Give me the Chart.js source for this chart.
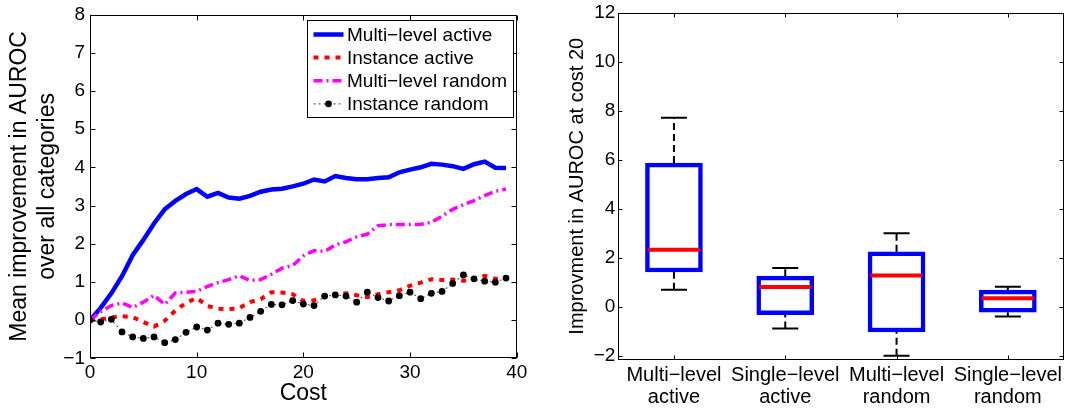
<!DOCTYPE html>
<html>
<head>
<meta charset="utf-8">
<script src="https://cdn.jsdelivr.net/npm/chart.js@4"></script>
<style>
  html, body { margin: 0; padding: 0; background: #fff; }
  #wrap { position: relative; width: 1071px; height: 408px; }
  #left  { position: absolute; left: 0;     top: 0; }
  #right { position: absolute; left: 540px; top: 0; }
</style>
</head>
<body>
<div id="wrap">
  <canvas id="left" width="540" height="408"></canvas>
  <canvas id="right" width="531" height="408"></canvas>
</div>
<script>
// ─── DATA ──────────────────────────────────────────

// left panel: mean AUROC improvement vs. cost
const costs = [0, 1, 2, 3, 4, 5, 6, 7, 8, 9, 10, 11, 12, 13, 14, 15, 16, 17, 18, 19,
               20, 21, 22, 23, 24, 25, 26, 27, 28, 29, 30, 31, 32, 33, 34, 35, 36, 37, 38, 39];
const multiActive = [0, 0.32, 0.7, 1.15, 1.7, 2.1, 2.53, 2.9, 3.12, 3.3, 3.43, 3.23, 3.33, 3.21, 3.18, 3.25, 3.36, 3.42, 3.44, 3.5,
                     3.57, 3.68, 3.63, 3.77, 3.72, 3.69, 3.69, 3.72, 3.74, 3.87, 3.94, 4.0, 4.09, 4.07, 4.03, 3.96, 4.08, 4.15, 3.99, 3.98];
const instanceActive = [0, 0.02, 0.07, 0.1, 0.08, -0.05, -0.17, -0.02, 0.25, 0.45, 0.58, 0.37, 0.3, 0.28, 0.32, 0.47, 0.55, 0.73, 0.72, 0.68,
                        0.5, 0.52, 0.63, 0.68, 0.7, 0.65, 0.6, 0.68, 0.73, 0.78, 0.9, 0.98, 1.07, 1.05, 1.06, 1.03, 1.05, 1.16, 1.08, 1.1];
const multiRandom = [0, 0.22, 0.38, 0.45, 0.33, 0.47, 0.65, 0.41, 0.71, 0.73, 0.75, 0.88, 0.98, 1.06, 1.16, 1.04, 1.06, 1.2, 1.36, 1.43,
                     1.68, 1.82, 1.8, 1.97, 2.05, 2.18, 2.25, 2.47, 2.5, 2.5, 2.5, 2.51, 2.56, 2.72, 2.9, 3.02, 3.13, 3.26, 3.37, 3.43];
const instanceRandom = [0, -0.05, 0.02, -0.31, -0.44, -0.48, -0.44, -0.59, -0.51, -0.32, -0.18, -0.26, -0.08, -0.11, -0.08, 0.07, 0.23, 0.41, 0.4, 0.51,
                        0.42, 0.38, 0.63, 0.66, 0.63, 0.47, 0.73, 0.59, 0.5, 0.64, 0.73, 0.56, 0.7, 0.75, 0.96, 1.18, 1.08, 1.02, 0.99, 1.1];
const leftXTicks = [0, 10, 20, 30, 40];
const leftYTicks = [-1, 0, 1, 2, 3, 4, 5, 6, 7, 8];

// right panel: box plot at cost 20
const boxCats = [['Multi−level', 'active'], ['Single−level', 'active'], ['Multi−level', 'random'], ['Single−level', 'random']];
const boxLow  = [0.69, -0.89, -2.0, -0.4];
const boxQ1   = [1.42, -0.32, -1.03, -0.22];
const boxMed  = [2.33, 0.81, 1.28, 0.35];
const boxQ3   = [5.86, 1.25, 2.24, 0.68];
const boxHigh = [7.71, 1.58, 3.0, 0.82];
const rightYTicks = [-2, 0, 2, 4, 6, 8, 10, 12];

// ─── SHARED ────────────────────────────────────────

const FONT = "'Liberation Sans', Arial, Helvetica, sans-serif";
const minus = v => String(v).replace('-', '\u2212');
const noGrid = { display: false, drawTicks: false, tickLength: 0 };

// MATLAB style box with inward tick marks on all four sides
const framePlugin = {
  id: 'frame',
  afterDatasetsDraw(chart, args, opts) {
    const { ctx, chartArea: a, scales } = chart;
    const len = opts.tickLength || 5;
    const L = Math.round(a.left) + 0.5, R = Math.round(a.right) - 0.5;
    const T = Math.round(a.top) + 0.5, B = Math.round(a.bottom) - 0.5;
    ctx.save();
    ctx.strokeStyle = '#000';
    ctx.lineWidth = 1;
    ctx.setLineDash([]);
    ctx.beginPath();
    scales.x.ticks.forEach(t => {
      const px = Math.round(scales.x.getPixelForValue(t.value)) + 0.5;
      ctx.moveTo(px, B); ctx.lineTo(px, B - len);
      ctx.moveTo(px, T); ctx.lineTo(px, T + len);
    });
    scales.y.ticks.forEach(t => {
      const py = Math.round(scales.y.getPixelForValue(t.value)) + 0.5;
      ctx.moveTo(L, py); ctx.lineTo(L + len, py);
      ctx.moveTo(R, py); ctx.lineTo(R - len, py);
    });
    ctx.stroke();
    ctx.strokeRect(L, T, R - L, B - T);
    ctx.restore();
  }
};

// legend inside the plot, top right, with a framed white box
const boxLegend = {
  id: 'boxLegend',
  afterDraw(chart) {
    const { ctx, chartArea: a } = chart;
    const w = 206, h = 97;
    const x0 = Math.round(a.right - 3.5 - w) + 0.5, y0 = Math.round(a.top + 5) + 0.5;
    ctx.save();
    ctx.fillStyle = '#fff';
    ctx.fillRect(x0, y0, w, h);
    ctx.strokeStyle = '#000';
    ctx.lineWidth = 1;
    ctx.strokeRect(x0, y0, w, h);
    chart.data.datasets.forEach((ds, i) => {
      const y = y0 + 14 + i * 23.1;
      ctx.beginPath();
      ctx.setLineDash(ds.borderDash || []);
      ctx.lineWidth = ds.borderWidth;
      ctx.strokeStyle = ds.borderColor;
      ctx.lineCap = 'butt';
      ctx.moveTo(x0 + 6, y);
      ctx.lineTo(x0 + 36, y);
      ctx.stroke();
      if (ds.pointRadius) {
        ctx.setLineDash([]);
        ctx.fillStyle = ds.pointBackgroundColor;
        ctx.beginPath();
        ctx.arc(x0 + 21, y, ds.pointRadius, 0, Math.PI * 2);
        ctx.fill();
      }
      ctx.fillStyle = '#000';
      ctx.font = '19px ' + FONT;
      ctx.textBaseline = 'middle';
      ctx.textAlign = 'left';
      ctx.fillText(ds.label, x0 + 39.5, y + 1);
    });
    ctx.restore();
  }
};

const toXY = arr => costs.map((c, i) => ({ x: c, y: arr[i] }));

// ─── LEFT: LINE CHART ──────────────────────────────

new Chart(document.getElementById('left'), {
  type: 'line',
  data: {
    datasets: [
      {
        label: 'Multi−level active',
        data: toXY(multiActive),
        borderColor: '#0000ff',
        borderWidth: 4.5,
        pointRadius: 0,
        order: 4
      },
      {
        label: 'Instance active',
        data: toXY(instanceActive),
        borderColor: '#ff0000',
        borderWidth: 4,
        borderDash: [5, 6],
        pointRadius: 0,
        order: 3
      },
      {
        label: 'Multi−level random',
        data: toXY(multiRandom),
        borderColor: '#ff00ff',
        borderWidth: 3.5,
        borderDash: [9, 4, 2, 4],
        pointRadius: 0,
        order: 2
      },
      {
        label: 'Instance random',
        data: toXY(instanceRandom),
        borderColor: '#666666',
        borderWidth: 1.2,
        borderDash: [2, 3],
        pointRadius: 3.4,
        pointBorderWidth: 0,
        pointBackgroundColor: '#000',
        order: 1
      }
    ]
  },
  options: {
    responsive: false,
    animation: false,
    layout: { autoPadding: false, padding: { left: 0, top: 14, right: 23.3, bottom: 0 } },
    plugins: {
      legend: { display: false },
      tooltip: { enabled: false },
      frame: { tickLength: 5 }
    },
    scales: {
      x: {
        type: 'linear',
        min: 0,
        max: 40,
        afterBuildTicks: s => { s.ticks = leftXTicks.map(v => ({ value: v })); },
        afterFit: s => { s.height = 49.7; },
        grid: noGrid,
        border: { display: false },
        ticks: { color: '#000', padding: 5, font: { family: FONT, size: 19, lineHeight: 1 }, maxRotation: 0 },
        title: { display: true, text: 'Cost', color: '#000', font: { family: FONT, size: 23, lineHeight: 1.2 }, padding: { top: 0, bottom: 1 } }
      },
      y: {
        min: -1,
        max: 8,
        afterBuildTicks: s => { s.ticks = leftYTicks.map(v => ({ value: v })); },
        afterFit: s => { s.width = 90; },
        grid: noGrid,
        border: { display: false },
        ticks: { color: '#000', padding: 5, callback: v => minus(v), font: { family: FONT, size: 19, lineHeight: 1 } },
        title: {
          display: true,
          text: ['Mean improvement in AUROC', 'over all categories'],
          color: '#000',
          font: { family: FONT, size: 23, lineHeight: 1.2 },
          padding: { top: 6, bottom: 0 }
        }
      }
    }
  },
  plugins: [framePlugin, boxLegend]
});

// ─── RIGHT: BOX PLOT ───────────────────────────────

const pos = boxCats.map((_, i) => i + 1);
const whiskers = [];
pos.forEach((p, i) => {
  whiskers.push({ x: p, y: boxQ3[i] }, { x: p, y: boxHigh[i] }, { x: p, y: null });
  whiskers.push({ x: p, y: boxLow[i] }, { x: p, y: boxQ1[i] }, { x: p, y: null });
});
const caps = pos.flatMap((p, i) => [{ x: p, y: boxLow[i] }, { x: p, y: boxHigh[i] }]);

new Chart(document.getElementById('right'), {
  type: 'bar',
  data: {
    datasets: [
      {
        type: 'bar',
        data: pos.map((p, i) => ({ x: p, y: [boxQ1[i], boxQ3[i]] })),
        backgroundColor: '#ffffff',
        borderColor: '#0000ff',
        borderWidth: 4.5,
        borderSkipped: false,
        barThickness: 57,
        order: 4
      },
      {
        type: 'line',
        data: whiskers,
        borderColor: '#000',
        borderWidth: 2,
        borderDash: [7, 4],
        pointRadius: 0,
        spanGaps: false,
        order: 3
      },
      {
        type: 'line',
        data: caps,
        showLine: false,
        pointStyle: 'line',
        pointRadius: 13,
        pointBorderWidth: 2,
        pointBorderColor: '#000',
        order: 2
      },
      {
        type: 'line',
        data: pos.map((p, i) => ({ x: p, y: boxMed[i] })),
        showLine: false,
        pointStyle: 'line',
        pointRadius: 26,
        pointBorderWidth: 4,
        pointBorderColor: '#ff0000',
        order: 1
      }
    ]
  },
  options: {
    responsive: false,
    animation: false,
    layout: { autoPadding: false, padding: { left: 0, top: 11, right: 7.5, bottom: 0 } },
    plugins: {
      legend: { display: false },
      tooltip: { enabled: false },
      frame: { tickLength: 4 }
    },
    scales: {
      x: {
        type: 'linear',
        min: 0.5,
        max: 4.5,
        offset: false,
        afterBuildTicks: s => { s.ticks = pos.map(v => ({ value: v })); },
        afterFit: s => { s.height = 48; },
        grid: noGrid,
        border: { display: false },
        ticks: {
          color: '#000',
          padding: 4,
          maxRotation: 0,
          autoSkip: false,
          callback: v => boxCats[v - 1] || '',
          font: { family: FONT, size: 20, lineHeight: 1.1 }
        }
      },
      y: {
        min: -2.17,
        max: 12,
        afterBuildTicks: s => { s.ticks = rightYTicks.map(v => ({ value: v })); },
        afterFit: s => { s.width = 78.3; },
        grid: noGrid,
        border: { display: false },
        ticks: { color: '#000', padding: 3, callback: v => minus(v), font: { family: FONT, size: 19, lineHeight: 1 } },
        title: {
          display: true,
          text: 'Improvment in AUROC at cost 20',
          color: '#000',
          font: { family: FONT, size: 20, lineHeight: 1.2 },
          padding: { top: 25.5, bottom: 0 }
        }
      }
    }
  },
  plugins: [framePlugin]
});
</script>
</body>
</html>
